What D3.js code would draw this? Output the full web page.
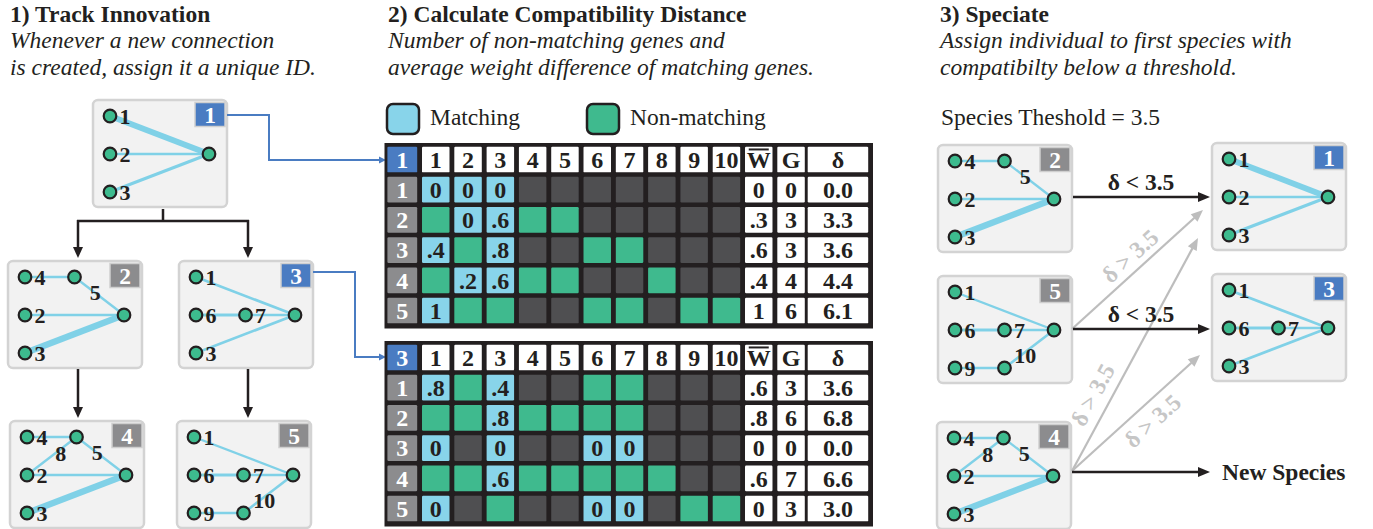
<!DOCTYPE html>
<html><head><meta charset="utf-8">
<script src="https://cdn.jsdelivr.net/npm/d3@7"></script>
<style>body{margin:0;background:#fff}svg{display:block}</style>
</head><body>
<svg id="c" width="1373" height="529"></svg>
<script>
// ---------------- DATA ----------------
const geneIds = [1, 2, 3, 4, 5, 6, 7, 8, 9, 10];
const rowGenomes = [1, 2, 3, 4, 5];
// M = matching, N = non-matching, E = absent
const table1Status = [
  ["M","M","M","E","E","E","E","E","E","E"],
  ["N","M","M","N","N","E","E","E","E","E"],
  ["M","N","M","E","E","N","N","E","E","E"],
  ["N","M","M","N","N","E","E","N","E","E"],
  ["M","N","N","E","E","N","N","E","N","N"]
];
const table1Diffs = [
  ["0","0","0",null,null,null,null,null,null,null],
  [null,"0",".6",null,null,null,null,null,null,null],
  [".4",null,".8",null,null,null,null,null,null,null],
  [null,".2",".6",null,null,null,null,null,null,null],
  ["1",null,null,null,null,null,null,null,null,null]
];
const table1Wbar = ["0", ".3", ".6", ".4", "1"];
const table1G = ["0", "3", "3", "4", "6"];
const table1Delta = ["0.0", "3.3", "3.6", "4.4", "6.1"];

const table2Status = [
  ["M","N","M","E","E","N","N","E","E","E"],
  ["N","N","M","N","N","N","N","E","E","E"],
  ["M","E","M","E","E","M","M","E","E","E"],
  ["N","N","M","N","N","N","N","N","E","E"],
  ["M","E","N","E","E","M","M","E","N","N"]
];
const table2Diffs = [
  [".8",null,".4",null,null,null,null,null,null,null],
  [null,null,".8",null,null,null,null,null,null,null],
  ["0",null,"0",null,null,"0","0",null,null,null],
  [null,null,".6",null,null,null,null,null,null,null],
  ["0",null,null,null,null,"0","0",null,null,null]
];
const table2Wbar = [".6", ".8", "0", ".6", "0"];
const table2G = ["3", "6", "0", "7", "3"];
const table2Delta = ["3.6", "6.8", "0.0", "6.6", "3.0"];

// genome connections: from/to = [layer, slot]
const genome1Conns = [
  {gene:1, from:[0,0], to:[2,1], weight:0.85, label:"src"},
  {gene:2, from:[0,1], to:[2,1], weight:0.2, label:"src"},
  {gene:3, from:[0,2], to:[2,1], weight:0.3, label:"src"}
];
const genome2Conns = [
  {gene:4, from:[0,0], to:[1,0], weight:0.15, label:"src"},
  {gene:5, from:[1,0], to:[2,1], weight:0.15, label:"mid"},
  {gene:2, from:[0,1], to:[2,1], weight:0.2, label:"src"},
  {gene:3, from:[0,2], to:[2,1], weight:0.95, label:"src"}
];
const genome3Conns = [
  {gene:1, from:[0,0], to:[2,1], weight:0.2, label:"src"},
  {gene:6, from:[0,1], to:[1,1], weight:0.25, label:"src"},
  {gene:7, from:[1,1], to:[2,1], weight:0.2, label:"src"},
  {gene:3, from:[0,2], to:[2,1], weight:0.2, label:"src"}
];
const genome4Conns = [
  {gene:4, from:[0,0], to:[1,0], weight:0.2, label:"src"},
  {gene:8, from:[0,1], to:[1,0], weight:0.15, label:"mid8"},
  {gene:5, from:[1,0], to:[2,1], weight:0.15, label:"mid"},
  {gene:2, from:[0,1], to:[2,1], weight:0.15, label:"src"},
  {gene:3, from:[0,2], to:[2,1], weight:0.95, label:"src"}
];
const genome5Conns = [
  {gene:1, from:[0,0], to:[2,1], weight:0.15, label:"src"},
  {gene:6, from:[0,1], to:[1,1], weight:0.25, label:"src"},
  {gene:7, from:[1,1], to:[2,1], weight:0.15, label:"src"},
  {gene:9, from:[0,2], to:[1,2], weight:0.2, label:"src"},
  {gene:10, from:[1,2], to:[2,1], weight:0.2, label:"mid"}
];
const threshold = 3.5;

// ---------------- STYLE ----------------
const C = {
  text:"#231f20", boxFill:"#f2f2f2", boxStroke:"#d3d3d3", blue:"#4a7cc2", gray:"#8c8c8e",
  conn:"#80d1e7", node:"#3dbb8e", match:"#88d4ea", non:"#3fba8e", empty:"#4f4f51",
  frame:"#231f20", arrowGray:"#bdbdbd", textGray:"#c6c6c6"
};
const SERIF = '"Liberation Serif", "Times New Roman", serif';
const svg = d3.select("#c");
svg.append("rect").attr("width",1373).attr("height",529).attr("fill","#fff");

function styleText(sel, o = {}) {
  return sel.style("font-family", SERIF).style("font-size", (o.size || 23.5) + "px")
    .style("font-weight", o.bold ? "bold" : "normal")
    .style("font-style", o.italic ? "italic" : "normal")
    .attr("fill", o.fill || C.text)
    .attr("text-anchor", o.anchor || "start");
}
function txt(x, y, s, o = {}) {
  return styleText(svg.append("text").attr("x", x).attr("y", y).text(s), o);
}

// ---------------- TITLES ----------------
const titles = [
  {x:10, t:"1) Track Innovation", s:["Whenever a new connection", "is created, assign it a unique ID."]},
  {x:388, t:"2) Calculate Compatibility Distance", s:["Number of non-matching genes and", "average weight difference of matching genes."]},
  {x:940, t:"3) Speciate", s:["Assign individual to first species with", "compatibilty below a threshold."]}
];
titles.forEach(d => {
  txt(d.x, 22, d.t, {bold:true});
  txt(d.x, 48, d.s[0], {italic:true});
  txt(d.x, 75, d.s[1], {italic:true});
});
txt(941, 125, `Species Theshold = ${threshold}`);

// legend
[{x:387, label:"Matching", c:C.match}, {x:587, label:"Non-matching", c:C.non}].forEach(d => {
  svg.append("rect").attr("x", d.x).attr("y", 104).attr("width", 32).attr("height", 30).attr("rx", 6)
    .attr("fill", d.c).attr("stroke", C.text).attr("stroke-width", 2.5);
  txt(d.x + 43, 125, d.label);
});

// ---------------- ARROWS ----------------
function arrow(points, color, width, headLen, headHalf, g = svg) {
  const line = d3.line();
  const n = points.length;
  const [x1, y1] = points[n - 2], [x2, y2] = points[n - 1];
  const ang = Math.atan2(y2 - y1, x2 - x1);
  const bx = x2 - headLen * Math.cos(ang), by = y2 - headLen * Math.sin(ang);
  const pts = points.slice(0, n - 1).concat([[bx + 0.5*Math.cos(ang), by + 0.5*Math.sin(ang)]]);
  g.append("path").attr("d", line(pts)).attr("fill", "none").attr("stroke", color).attr("stroke-width", width);
  const px = -Math.sin(ang), py = Math.cos(ang);
  g.append("path").attr("d", line([[x2, y2], [bx + px*headHalf, by + py*headHalf], [bx - px*headHalf, by - py*headHalf]]) + "Z")
    .attr("fill", color);
}

// ---------------- GENOMES ----------------
const xLayer = d3.scalePoint().domain([0, 1, 2]).range([17, 116]);
const ySlot = d3.scalePoint().domain([0, 1, 2]).range([16, 92]);
const wScale = d3.scaleLinear().domain([0, 1]).range([1.6, 6.6]);
const BW = 134, BH = 107;

function drawGenome(conns, badge, badgeColor, x, y) {
  const g = svg.append("g").attr("transform", `translate(${x},${y})`);
  g.append("rect").attr("width", BW).attr("height", BH).attr("rx", 5)
    .attr("fill", C.boxFill).attr("stroke", C.boxStroke).attr("stroke-width", 2.5);
  g.append("rect").attr("x", BW - 32).attr("y", 2.5).attr("width", 30).attr("height", 24)
    .attr("fill", badgeColor).attr("stroke", "#cfcfcf").attr("stroke-width", 1.5);
  styleText(g.append("text").attr("x", BW - 17).attr("y", 22.5).text(badge),
    {bold:true, size:23.5, fill:"#fff", anchor:"middle"});
  const P = p => [xLayer(p[0]), ySlot(p[1])];
  g.selectAll("line.c").data(conns).join("line")
    .attr("x1", d => P(d.from)[0]).attr("y1", d => P(d.from)[1])
    .attr("x2", d => P(d.to)[0]).attr("y2", d => P(d.to)[1])
    .attr("stroke", C.conn).attr("stroke-width", d => wScale(d.weight));
  const nodes = [];
  conns.forEach(c => [c.from, c.to].forEach(p => {
    if (!nodes.some(n => n[0] === p[0] && n[1] === p[1])) nodes.push(p);
  }));
  g.selectAll("circle").data(nodes).join("circle")
    .attr("cx", d => P(d)[0]).attr("cy", d => P(d)[1]).attr("r", 6.3)
    .attr("fill", C.node).attr("stroke", C.text).attr("stroke-width", 2.2);
  conns.forEach(c => {
    const a = P(c.from), b = P(c.to);
    let lx, ly, anchor = "middle";
    if (c.label === "src") { lx = a[0] + 9.5; ly = a[1] + 7.5; anchor = "start"; }
    else if (c.label === "mid8") { lx = a[0] + (b[0]-a[0])*0.68; ly = a[1] + (b[1]-a[1])*0.68 + 4 + 7.5; }
    else if (b[1] < a[1]) { lx = a[0] + (b[0]-a[0])*0.42; ly = a[1] + (b[1]-a[1])*0.42 + 10.5; }
    else { lx = a[0] + (b[0]-a[0])*0.42; ly = a[1] + (b[1]-a[1])*0.42 + 7.5; }
    styleText(g.append("text").attr("x", lx).attr("y", ly).text(c.gene), {bold:true, size:22, anchor});
  });
}

// left panel
drawGenome(genome1Conns, "1", C.blue, 93, 100);
drawGenome(genome2Conns, "2", C.gray, 8, 261);
drawGenome(genome3Conns, "3", C.blue, 179, 261);
drawGenome(genome4Conns, "4", C.gray, 10, 421);
drawGenome(genome5Conns, "5", C.gray, 177, 421);

// tree arrows
svg.append("path").attr("d", "M163,209V221M77,221H249").attr("stroke", C.text).attr("stroke-width", 2.5).attr("fill", "none");
arrow([[78, 220], [78, 258]], C.text, 2.5, 11, 5);
arrow([[248, 220], [248, 258]], C.text, 2.5, 11, 5);
arrow([[78, 369], [78, 418]], C.text, 2.5, 11, 5);
arrow([[248, 369], [248, 418]], C.text, 2.5, 11, 5);

// blue connectors
arrow([[227, 115], [269, 115], [269, 160], [386, 160]], C.blue, 2, 7, 3.5);
arrow([[313, 272], [355, 272], [355, 357], [386, 357]], C.blue, 2, 7, 3.5);

// ---------------- TABLES ----------------
const colDomain = ["h", ...geneIds, "W", "G"];
const xBand = d3.scaleBand().domain(colDomain).range([387.3, 387.3 + 13 * 32.3])
  .paddingInner(0.149).paddingOuter(0.0745);
const deltaX = 807.7, deltaW = 60.5;

function drawTable(y0, headGenome, status, diffs, wbar, G, delta) {
  const yBand = d3.scaleBand().domain(["h", ...rowGenomes]).range([y0 + 1.4, y0 + 1.4 + 6 * 30.2])
    .paddingInner(0.149).paddingOuter(0.0745);
  const g = svg.append("g");
  g.append("rect").attr("x", 384.5).attr("y", y0).attr("width", 488.5).attr("height", 185.5).attr("fill", C.frame);
  const bw = xBand.bandwidth(), bh = yBand.bandwidth();
  const cell = (x, y, w, h, fill, label, color) => {
    g.append("rect").attr("x", x).attr("y", y).attr("width", w).attr("height", h).attr("rx", 1.2).attr("fill", fill);
    if (label !== null && label !== undefined)
      styleText(g.append("text").attr("x", x + w / 2).attr("y", y + h / 2 + 8.2).text(label),
        {bold:true, size:24, fill:color || C.text, anchor:"middle"});
  };
  const hx = xBand("h") - 2.3, hw = bw + 2.3;
  const yh = yBand("h");
  cell(hx, yh, hw, bh, C.blue, headGenome, "#fff");
  geneIds.forEach(id => cell(xBand(id), yh, bw, bh, "#fff", id));
  cell(xBand("W"), yh, bw, bh, "#fff", "W");
  g.append("line").attr("x1", xBand("W") + bw/2 - 10).attr("x2", xBand("W") + bw/2 + 10)
    .attr("y1", yh + 2.8).attr("y2", yh + 2.8).attr("stroke", C.text).attr("stroke-width", 2);
  cell(xBand("G"), yh, bw, bh, "#fff", "G");
  cell(deltaX, yh, deltaW, bh, "#fff", "δ");
  const fillOf = {M: C.match, N: C.non, E: C.empty};
  rowGenomes.forEach((r, i) => {
    const y = yBand(r);
    cell(hx, y, hw, bh, C.gray, r, "#fff");
    geneIds.forEach((id, j) => cell(xBand(id), y, bw, bh, fillOf[status[i][j]], diffs[i][j]));
    cell(xBand("W"), y, bw, bh, "#fff", wbar[i]);
    cell(xBand("G"), y, bw, bh, "#fff", G[i]);
    cell(deltaX, y, deltaW, bh, "#fff", delta[i]);
  });
}
drawTable(143, 1, table1Status, table1Diffs, table1Wbar, table1G, table1Delta);
drawTable(341, 3, table2Status, table2Diffs, table2Wbar, table2G, table2Delta);

// ---------------- SPECIATE ----------------
drawGenome(genome2Conns, "2", C.gray, 938, 145);
drawGenome(genome1Conns, "1", C.blue, 1212, 143);
drawGenome(genome5Conns, "5", C.gray, 938, 276);
drawGenome(genome3Conns, "3", C.blue, 1212, 274);
drawGenome(genome4Conns, "4", C.gray, 937, 422);

// gray (rejected) arrows
const grayArrows = [
  {a:[1072, 329], b:[1203, 210], t:0.52, off:7},
  {a:[1072, 471], b:[1198, 238], t:0.29, off:10},
  {a:[1072, 471], b:[1200, 355], t:0.54, off:-25}
];
grayArrows.forEach(d => {
  arrow([d.a, d.b], C.arrowGray, 2.2, 12, 5);
  const ang = Math.atan2(d.b[1] - d.a[1], d.b[0] - d.a[0]);
  const px = d.a[0] + (d.b[0] - d.a[0]) * d.t + Math.sin(ang) * d.off;
  const py = d.a[1] + (d.b[1] - d.a[1]) * d.t - Math.cos(ang) * d.off;
  styleText(svg.append("text").attr("transform", `translate(${px},${py}) rotate(${ang * 180 / Math.PI})`)
    .text(`δ > ${threshold}`), {bold:true, size:23.5, fill:C.textGray, anchor:"middle"});
});

// black accepted arrows
arrow([[1073, 197], [1210, 197]], C.text, 2.5, 12, 5);
txt(1141, 190, `δ < ${threshold}`, {bold:true, anchor:"middle"});
arrow([[1073, 329], [1210, 329]], C.text, 2.5, 12, 5);
txt(1141, 322, `δ < ${threshold}`, {bold:true, anchor:"middle"});
arrow([[1072, 472], [1210, 472]], C.text, 2.5, 12, 5);
txt(1222, 480, "New Species", {bold:true});
</script>
</body></html>
